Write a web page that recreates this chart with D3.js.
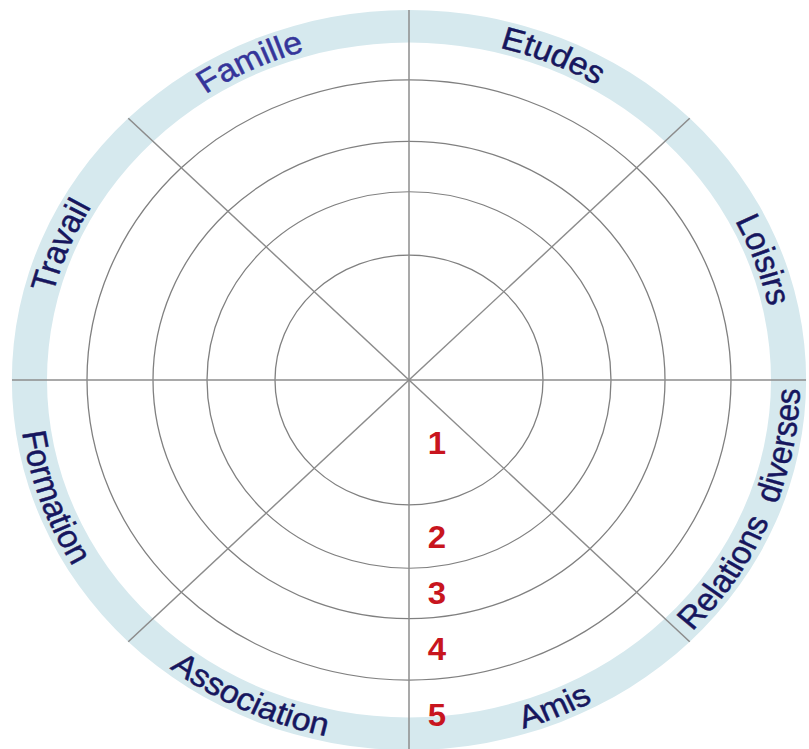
<!DOCTYPE html>
<html>
<head>
<meta charset="utf-8">
<script src="https://cdn.jsdelivr.net/npm/d3@7"></script>
<style>
  html, body { margin: 0; padding: 0; background: #fff; }
  svg { display: block; }
</style>
</head>
<body>
<svg id="chart"></svg>
<script>
// sectors, clockwise from 12 o'clock
const categories = ['Etudes', 'Loisirs', 'Relations diverses', 'Amis',
  'Association', 'Formation', 'Travail', 'Famille'];
// ring levels, 1 in the middle to 5 at the rim
const levels = [1, 2, 3, 4, 5];
const levelLabels = ['1', '2', '3', '4', '5'];

const width = 809;
const height = 749;

// small nudges (degrees) so the names sit where the original had them
const labelShift = { Loisirs: 2.5, Association: 2.5, Formation: 3, Famille: -2.5 };

const svg = d3.select('#chart')
  .attr('width', width)
  .attr('height', height);

// the wheel is a little squashed vertically in the original
const g = svg.append('g')
  .attr('transform', 'translate(409,380) scale(1,0.932)');

// level -> radius (rings are not evenly spaced)
const r = d3.scaleLinear()
  .domain([0, 1, 2, 3, 4, 5])
  .range([0, 134, 202, 256, 322, 397]);

const bandInner = 362;
const bandOuter = r(5);

const angle = d3.scaleBand()
  .domain(categories)
  .range([0, 2 * Math.PI]);

// light blue rim
g.append('path')
  .attr('d', d3.arc()({ innerRadius: bandInner, outerRadius: bandOuter, startAngle: 0, endAngle: 2 * Math.PI }))
  .attr('fill', '#d6e9ee');

// rings
g.selectAll('circle.ring')
  .data(levels.slice(0, 4))
  .enter()
  .append('circle')
  .attr('class', 'ring')
  .attr('r', d => r(d))
  .attr('fill', 'none')
  .attr('stroke', '#808080')
  .attr('stroke-width', 1.3);

// spokes at every sector border
g.selectAll('line.spoke')
  .data(categories)
  .enter()
  .append('line')
  .attr('class', 'spoke')
  .attr('x1', 0)
  .attr('y1', 0)
  .attr('x2', d => bandOuter * Math.sin(angle(d)))
  .attr('y2', d => -bandOuter * Math.cos(angle(d)))
  .attr('stroke', '#8c8c8c')
  .attr('stroke-width', 1.5);

// arc paths for the sector names
const pt = (rad, a) => [rad * Math.sin(a), -rad * Math.cos(a)];
const fontSize = 34;
const defs = svg.append('defs');
categories.forEach((c, i) => {
  const shift = (labelShift[c] || 0) * Math.PI / 180;
  const a0 = angle(c) + shift;
  const a1 = a0 + angle.bandwidth();
  const mid = (a0 + a1) / 2;
  const bottom = mid > Math.PI / 2 && mid < 3 * Math.PI / 2;
  let d;
  if (!bottom) {
    const rad = (bandInner + bandOuter) / 2 - fontSize * 0.34;
    const p0 = pt(rad, a0);
    const p1 = pt(rad, a1);
    d = `M${p0[0]},${p0[1]} A${rad},${rad} 0 0 1 ${p1[0]},${p1[1]}`;
  } else {
    // lower half reads the other way round, letters pointing inward
    const rad = (bandInner + bandOuter) / 2 + fontSize * 0.34;
    const p0 = pt(rad, a1);
    const p1 = pt(rad, a0);
    d = `M${p0[0]},${p0[1]} A${rad},${rad} 0 0 0 ${p1[0]},${p1[1]}`;
  }
  defs.append('path').attr('id', 'lab' + i).attr('d', d);
});

g.selectAll('text.cat')
  .data(categories)
  .enter()
  .append('text')
  .attr('class', 'cat')
  .attr('font-family', '"Liberation Sans", Arial, sans-serif')
  .attr('font-size', fontSize)
  .attr('fill', d => d === 'Famille' ? '#35359a' : '#16165e')
  .attr('stroke', d => d === 'Famille' ? '#35359a' : '#16165e')
  .attr('stroke-width', 0.5)
  .attr('word-spacing', d => d === 'Relations diverses' ? 10 : 0)
  .append('textPath')
  .attr('href', (d, i) => '#lab' + i)
  .attr('startOffset', '50%')
  .attr('text-anchor', 'middle')
  .text(d => d);

// level numbers down the lower vertical spoke
g.selectAll('text.level')
  .data(levels)
  .enter()
  .append('text')
  .attr('class', 'level')
  .attr('x', 28)
  .attr('y', d => (r(d - 1) + r(d)) / 2)
  .attr('dy', '0.36em')
  .attr('text-anchor', 'middle')
  .attr('font-family', '"Liberation Sans", Arial, sans-serif')
  .attr('font-weight', 'bold')
  .attr('font-size', 33)
  .attr('fill', '#c8151e')
  .text((d, i) => levelLabels[i]);
</script>
</body>
</html>
